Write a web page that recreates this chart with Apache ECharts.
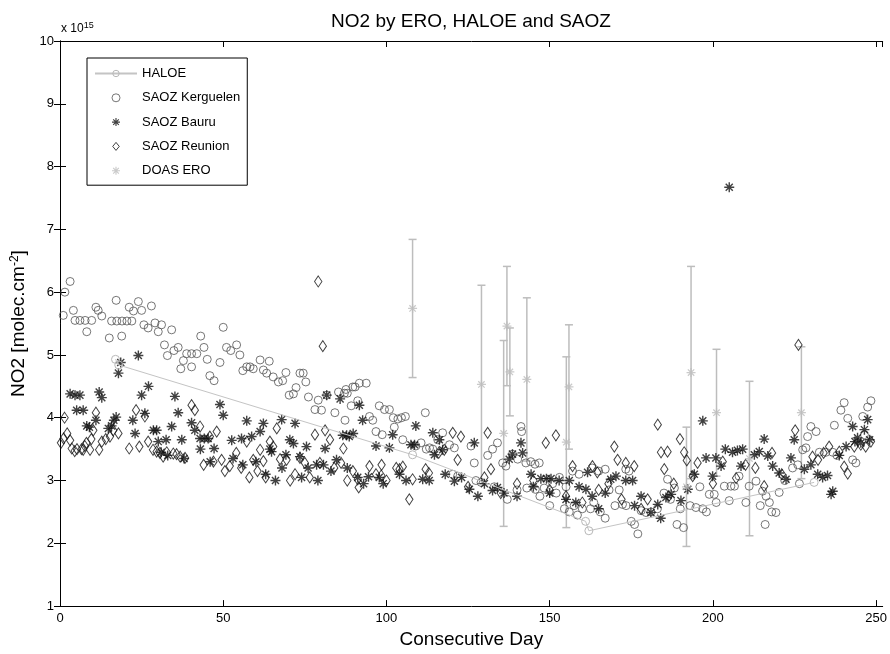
<!DOCTYPE html>
<html>
<head>
<meta charset="utf-8">
<script src="https://cdn.jsdelivr.net/npm/echarts@6/dist/echarts.min.js"></script>
<style>
  html, body { margin: 0; padding: 0; background: #fff; }
  #chart { width: 890px; height: 654px; }
</style>
</head>
<body>
<div id="chart"></div>
<script>
// values, units of 1e15 molec/cm2
var haloe = [[17, 4.93], [18, 4.84], [108, 3.41], [161, 2.35], [162, 2.2], [231, 2.97]];

var kerguelen = [
  [1.0, 5.63], [1.5, 6.0], [3.1, 6.17], [4.1, 5.71], [4.6, 5.55], [6.1, 5.55], [7.7, 5.55], [8.2, 5.37], [9.7, 5.55],
  [11, 5.76], [11.7, 5.71], [12.8, 5.62], [15.1, 5.27], [15.8, 5.54], [17.2, 5.87], [17.4, 5.54], [18.9, 5.3], [19, 5.54],
  [20.5, 5.54], [21.2, 5.76], [22, 5.54], [22.5, 5.7], [24, 5.85], [25, 5.71], [25.7, 5.48], [27, 5.43], [28, 5.78],
  [29.1, 5.51], [30.1, 5.37], [31.1, 5.48], [32, 5.16], [32.9, 4.99], [34.2, 5.4], [34.9, 5.07], [36.2, 5.12], [37, 4.78],
  [37.8, 4.91], [38.8, 5.02], [40.3, 4.81], [40.3, 5.02], [41.9, 5.02], [43.1, 5.3], [44.1, 5.12], [45.1, 4.93], [45.9, 4.67],
  [47.2, 4.59], [49, 4.88], [50, 5.44], [51, 5.12], [52.3, 5.07], [54.1, 5.16], [55.1, 5.0], [56, 4.75], [57.2, 4.81],
  [58.2, 4.81], [59.2, 4.78], [61.3, 4.92], [62.3, 4.76], [63.3, 4.71], [64.1, 4.9], [65.3, 4.65], [66.9, 4.57], [68.2, 4.59],
  [69.2, 4.72], [70.2, 4.36], [71.5, 4.38], [72.3, 4.48], [73.5, 4.71], [74.5, 4.71], [75.3, 4.57], [76.1, 4.33], [78.1, 4.13],
  [79.1, 4.28], [80.1, 4.12], [81.7, 4.36], [84.2, 4.08], [85.3, 4.41], [87.1, 4.39], [87.3, 3.96], [87.6, 4.45], [88, 4.39],
  [89.2, 4.19], [89.7, 4.49], [90.4, 4.49], [91.2, 4.27], [91.7, 4.55], [93.8, 4.55], [94.8, 4.02], [95.8, 3.96], [96.8, 3.78],
  [97.8, 4.19], [98.7, 3.73], [99.4, 4.13], [100.9, 4.13], [102.1, 4.0], [102.4, 3.85], [103.5, 3.98], [104.6, 4.0], [105, 3.65],
  [105.8, 4.02], [109, 3.55], [110.6, 3.6], [111.9, 4.08], [112.2, 3.5], [113.2, 3.52], [114.2, 3.5], [115.7, 3.65], [117.2, 3.76],
  [119.3, 3.57], [120.3, 3.1], [120.8, 3.52], [121.8, 3.07], [125.9, 3.55], [126.9, 3.28], [127.4, 3.0], [129, 2.97], [131, 3.4],
  [132.5, 3.5], [134, 3.6], [135.6, 3.28], [136.6, 3.23], [138.6, 3.42], [140.2, 3.34], [141.2, 3.86], [141.4, 3.78], [142.7, 3.28],
  [143, 2.88], [144.2, 3.3], [145.5, 3.26], [146.8, 3.28], [145.6, 2.86], [148.3, 2.88], [150.9, 2.95], [153, 3.05], [155, 2.9],
  [157, 3.15], [159, 3.1], [163, 3.2], [165, 3.15], [167, 3.18], [168.2, 2.85], [171.3, 2.85], [173.3, 3.18], [174.3, 3.15],
  [133, 2.9], [137, 2.7], [140, 2.85], [147, 2.75], [150, 2.6], [152, 2.8], [154.5, 2.55], [156, 2.5], [157.5, 2.6],
  [158.5, 2.45], [160, 2.55], [162.5, 2.55], [163.5, 2.65], [165.5, 2.5], [167, 2.4], [170, 2.6], [172.3, 2.62], [173.4, 2.6],
  [175, 2.35], [176, 2.3], [177, 2.15], [178, 2.52], [179.5, 2.49], [181, 2.5], [183, 2.55], [185, 2.8], [186.1, 3.02],
  [187, 2.7], [188.2, 2.88], [189, 2.3], [190, 2.55], [191, 2.25], [193, 2.6], [194.8, 2.57], [196.9, 2.55], [196, 2.9],
  [198, 2.5], [198.9, 2.78], [200.4, 2.78], [201, 2.65], [203.5, 2.91], [205, 2.68], [205.5, 2.91], [206.6, 2.91], [208, 3.07],
  [210.1, 2.65], [211.1, 2.91], [213.2, 2.99], [214.5, 2.6], [215.2, 2.83], [216.3, 2.75], [216, 2.3], [217.3, 2.65], [218, 2.5],
  [219.3, 2.49], [220.3, 2.81], [222, 3.0], [224.4, 3.2], [226, 3.25], [226.5, 2.95], [227.5, 3.49], [228.5, 3.52], [229, 3.7],
  [230, 3.86], [231.6, 3.78], [232.6, 3.45], [234.6, 3.45], [236.7, 3.45], [237.2, 3.88], [238, 3.4], [239.2, 4.12], [240.2, 4.24],
  [241.3, 3.99], [242.8, 3.33], [243.8, 3.28], [245.9, 4.02], [246.4, 3.73], [247.4, 4.17], [248.4, 4.27]
];

var bauru = [
  [3.1, 4.38], [4.6, 4.36], [6.1, 4.36], [5.1, 4.12], [7.1, 4.12], [8.2, 3.87], [9, 3.85], [11, 3.96], [12, 4.41], [12.8, 4.32],
  [14.8, 3.83], [15.8, 3.87], [16.5, 3.96], [17.2, 4.01], [17.9, 4.71], [18.6, 4.88], [22.3, 3.96], [23, 3.75], [24, 4.99],
  [25, 4.36], [26, 4.07], [27.1, 4.5], [28.6, 3.8], [29.6, 3.8], [30.1, 3.62], [32.5, 3.65], [34.2, 3.86], [35.2, 4.34],
  [36.2, 4.08], [37.3, 3.65], [40.3, 3.92], [41.3, 3.8], [42.9, 3.67], [44.2, 3.67], [45.4, 3.67], [47.2, 3.51], [49, 4.21],
  [50, 4.04], [52.6, 3.64], [55.6, 3.67], [57.2, 3.95], [58.7, 3.7], [61.3, 3.78], [62.3, 3.91], [64.3, 3.5], [64.8, 3.46],
  [67.9, 3.97], [69.2, 3.41], [70.4, 3.65], [71.5, 3.59], [72, 3.91], [73.5, 3.38], [75.5, 3.54], [78.6, 3.25], [80.7, 3.25],
  [81.2, 3.51], [81.7, 4.36], [84.7, 3.33], [85.8, 4.3], [86.6, 3.72], [87.8, 3.72], [88.6, 3.7], [89.8, 3.75], [91.7, 4.2],
  [92.7, 3.96], [96.8, 3.55], [100.9, 3.52], [91.2, 3.05], [94.5, 3.06], [97.8, 3.05], [101.9, 3.73], [107.5, 3.57], [108.6, 3.57],
  [109, 3.87], [111.1, 3.02], [113.1, 3.0], [114.2, 3.76], [114.7, 3.41], [116.2, 3.65], [117.2, 3.49], [120.8, 2.99], [123, 3.05],
  [125.4, 2.86], [126.9, 3.6], [132.5, 2.84], [134, 2.89], [137.6, 3.34], [138.6, 3.42], [141.2, 3.6], [141.7, 3.44], [144.3, 3.1],
  [147.3, 3.03], [149, 3.03], [150.4, 3.03], [152.9, 3.0], [156, 3.0], [159, 2.9], [161.1, 2.86], [161.6, 3.13], [168.7, 3.02],
  [170.3, 3.07], [173.3, 3.0], [175.4, 3.0],
  [31, 3.45], [33, 3.4], [38, 3.35], [43, 3.5], [46, 3.3], [53, 3.35], [56, 3.25], [60, 3.3], [63, 3.1], [66, 3.0], [68, 3.2],
  [74, 3.05], [76, 3.2], [79, 3.0], [83, 3.15], [88, 3.2], [93, 2.95], [99, 2.95], [104, 3.1], [106, 3.0], [118, 3.1],
  [128, 2.75], [130, 2.95], [136, 2.8], [140, 2.75], [145, 2.9], [150, 2.8], [155, 2.7], [158, 2.65], [163, 2.75], [165, 2.55],
  [167, 2.8], [176, 2.6], [178, 2.75], [181, 2.49], [183.1, 2.62], [184, 2.4], [185.6, 2.73], [187.2, 2.78], [190.2, 2.68],
  [192.3, 2.86], [194.3, 3.1], [196.9, 3.95], [197.9, 3.36], [199.9, 3.07], [200.9, 3.36], [202.5, 3.23], [203.8, 3.5],
  [205, 7.67], [206, 3.45], [207.5, 3.48], [208.6, 3.23], [209.1, 3.5], [212.7, 3.41], [214.2, 3.46], [215.7, 3.66], [216.8, 3.39],
  [218.3, 3.23], [220.3, 3.12], [222.4, 3.02], [223.9, 3.36], [224.9, 3.65], [228, 3.18], [230, 3.25], [232.1, 3.1], [233.6, 3.05],
  [235.1, 3.08], [236.2, 2.78], [236.7, 2.83], [238.7, 3.4], [240.8, 3.54], [242.8, 3.86], [243.5, 3.62], [244.3, 3.68],
  [245.3, 3.6], [246.4, 3.81], [247.4, 3.97], [248, 3.65]
];

var reunion = [
  [0.3, 3.6], [1.1, 3.67], [1.4, 4.0], [2.2, 3.75], [3.1, 3.64], [3.6, 3.51], [4.5, 3.47], [5.2, 3.5], [6.6, 3.5], [7.1, 3.49],
  [7.6, 3.55], [8.1, 3.6], [9.2, 3.49], [9.6, 3.66], [10.2, 3.8], [11, 4.08], [12, 3.49], [12.8, 3.62], [14, 3.66], [15.3, 3.7],
  [16.3, 3.8], [17.9, 3.75], [21.2, 3.51], [23.3, 4.12], [24.3, 3.54], [26, 4.02], [27, 3.62], [28.5, 3.49], [29.6, 3.46],
  [30.6, 3.44], [31.6, 3.38], [32.7, 3.45], [34.7, 3.43], [35.7, 3.42], [36.8, 3.38], [38.3, 3.36], [40.3, 4.2], [41.3, 4.12],
  [42.9, 3.86], [44, 3.25], [45.9, 3.7], [47, 3.3], [48, 3.78], [49.5, 3.33], [50.5, 3.15], [52, 3.23], [54, 3.44], [55.5, 3.2],
  [57.2, 3.62], [58, 3.05], [59.2, 3.33], [60.5, 3.15], [61.3, 3.49], [62.3, 3.31], [63, 3.05], [64.3, 3.62], [65.3, 3.54],
  [66.4, 3.83], [67.4, 3.34], [69.4, 3.33], [70.5, 3.0], [72, 3.1], [73.5, 3.36], [75, 3.28], [76.5, 3.05], [78.1, 3.73],
  [79.1, 6.17], [79.6, 3.28], [80.5, 5.14], [81.2, 3.8], [82.7, 3.65], [84, 3.2], [86.1, 3.28], [86.8, 3.51], [88, 3.0],
  [89.7, 3.15], [91.2, 3.02], [91.5, 2.89], [94.8, 3.23], [96.8, 3.1], [98.4, 3.08], [98.5, 3.25], [100, 3.0], [103, 3.2],
  [104, 3.18], [105, 3.22], [107, 2.7], [108, 3.02], [112, 3.18], [113, 3.12], [116, 3.44], [117.7, 3.49], [120.3, 3.76],
  [121.8, 3.33], [122.8, 3.7], [125, 2.9], [130, 3.05], [131, 3.76], [132, 3.18], [135, 2.8], [140, 2.95], [145, 3.0],
  [148.8, 3.6], [150, 2.85], [151.9, 3.72], [155, 2.75], [157, 3.23], [160, 2.65], [163.1, 3.23], [164.6, 3.13], [165, 2.85],
  [168, 2.95], [169.8, 3.54], [170.8, 3.33], [172, 2.7], [173.3, 3.28], [175.9, 3.23], [178, 2.55], [180, 2.7], [183.1, 3.89],
  [184.1, 3.45], [185.1, 3.18], [186.1, 3.46], [186.5, 2.75], [188, 2.95], [189.9, 3.66], [191.2, 3.45], [192, 3.32],
  [193.8, 3.07], [195.3, 3.28], [200, 2.95], [203, 3.3], [207.1, 3.04], [210, 3.25], [213, 3.2], [215.7, 2.91], [218.1, 3.44],
  [221.1, 3.1], [225.2, 3.8], [226.2, 5.16], [230.5, 3.38], [232.2, 3.33], [233.9, 3.44], [235.6, 3.54], [238.7, 3.46],
  [240.2, 3.22], [241.3, 3.11], [243.3, 3.54], [245.3, 3.57], [246.8, 3.54], [248.4, 3.62]
];

// DOAS ERO: day, value, error half-width
var doas = [
  [108.0, 5.74, 1.10], [129.1, 4.53, 1.58], [135.9, 3.75, 1.48], [136.9, 5.46, 0.95], [137.8, 4.73, 0.70],
  [143.0, 4.61, 1.30], [155.1, 3.61, 1.36], [155.9, 4.49, 0.99], [191.9, 2.90, 0.95], [193.3, 4.72, 1.69],
  [201.1, 4.08, 1.01], [211.2, 3.35, 1.23], [227.1, 4.08, 1.05]
];

var xTicks = [0, 250, 50];   // min, last tick, step
var yTicks = [1, 10, 1];

var font = "'Liberation Sans', Arial, sans-serif";

// asterisk made of four thin bars
var starPath = 'path://M-0.7,-5 L0.7,-5 L0.7,5 L-0.7,5 Z M-5,-0.7 L5,-0.7 L5,0.7 L-5,0.7 Z ' +
  'M3.04,-4.03 L4.03,-3.04 L-3.04,4.03 L-4.03,3.04 Z M-4.03,-3.04 L-3.04,-4.03 L4.03,3.04 L3.04,4.03 Z';
// tall diamond like matlab's 'd'
var diamondPath = 'path://M0,0 L4.5,5.5 L0,11 L-4.5,5.5 Z';

var chart = echarts.init(document.getElementById('chart'));

function errorBar(params, api) {
  var x = api.value(0), y = api.value(1), e = api.value(2);
  var top = api.coord([x, y + e]);
  var bot = api.coord([x, y - e]);
  var st = { stroke: '#bdbdbd', lineWidth: 1.5 };
  return {
    type: 'group',
    children: [
      { type: 'line', shape: { x1: top[0], y1: top[1], x2: bot[0], y2: bot[1] }, style: st },
      { type: 'line', shape: { x1: top[0] - 4, y1: top[1], x2: top[0] + 4, y2: top[1] }, style: st },
      { type: 'line', shape: { x1: bot[0] - 4, y1: bot[1], x2: bot[0] + 4, y2: bot[1] }, style: st }
    ]
  };
}

var axisCommon = {
  type: 'value',
  axisLine: { show: true, lineStyle: { color: '#000', width: 1 } },
  axisTick: { show: true, inside: true, length: 6, lineStyle: { color: '#000' } },
  splitLine: { show: false }
};

var option = {
  animation: false,
  backgroundColor: '#fff',
  grid: { left: 60, right: 6, top: 41, bottom: 43 },
  graphic: [
    { type: 'text', x: 471, y: 22, style: { text: 'NO2 by ERO, HALOE and SAOZ', font: '19px ' + font, fill: '#000', textAlign: 'center', textVerticalAlign: 'middle' } },
    { type: 'text', x: 61, y: 36, style: { text: 'x 10{s|15}', font: '12px ' + font, fill: '#000', textVerticalAlign: 'bottom',
      rich: { s: { fontSize: 9, verticalAlign: 'top', padding: [0, 0, 6, 0] } } } }
  ],
  legend: {
    left: 87, top: 58, orient: 'vertical',
    padding: [9, 7, 8, 7],
    itemWidth: 42, itemHeight: 8, itemGap: 11.3,
    symbolKeepAspect: true,
    itemStyle: { borderWidth: 1 },
    backgroundColor: '#fff', borderColor: '#000', borderWidth: 1,
    textStyle: { fontSize: 13, fontFamily: font, color: '#000' },
    data: ['HALOE', 'SAOZ Kerguelen', 'SAOZ Bauru', 'SAOZ Reunion', 'DOAS ERO']
  },
  xAxis: [
    Object.assign({}, axisCommon, {
      min: xTicks[0], max: 252, interval: xTicks[2], position: 'bottom',
      axisLabel: { color: '#000', fontSize: 13, fontFamily: font, margin: 6, showMaxLabel: false },
      name: 'Consecutive Day', nameLocation: 'middle', nameGap: 22,
      nameTextStyle: { fontSize: 19, fontFamily: font, color: '#000' }
    }),
    Object.assign({}, axisCommon, {
      min: xTicks[0], max: 252, interval: xTicks[2], position: 'top', axisLabel: { show: false }
    })
  ],
  yAxis: [
    Object.assign({}, axisCommon, {
      min: yTicks[0], max: yTicks[1], interval: yTicks[2], position: 'left',
      axisLabel: { color: '#000', fontSize: 13, fontFamily: font, margin: 6 },
      name: '{a|NO2 [molec.cm}{s|-2}{a|]}', nameLocation: 'middle', nameGap: 22,
      nameTextStyle: { color: '#000', rich: {
        a: { fontSize: 19, fontFamily: font, color: '#000' },
        s: { fontSize: 12, fontFamily: font, color: '#000', verticalAlign: 'top', padding: [0, 0, 8, 0] }
      } }
    }),
    Object.assign({}, axisCommon, {
      min: yTicks[0], max: yTicks[1], interval: yTicks[2], position: 'right', axisLabel: { show: false }
    })
  ],
  series: [
    {
      name: 'HALOE', type: 'line', data: haloe, symbol: 'circle', symbolSize: 8, showAllSymbol: true,
      lineStyle: { color: '#c4c4c4', width: 1 },
      itemStyle: { color: 'rgba(0,0,0,0)', borderColor: '#b8b8b8', borderWidth: 1 }
    },
    {
      name: 'SAOZ Kerguelen', type: 'scatter', data: kerguelen, symbol: 'circle', symbolSize: 8,
      itemStyle: { color: 'rgba(0,0,0,0)', borderColor: '#555', borderWidth: 1 }
    },
    {
      name: 'SAOZ Bauru', type: 'scatter', data: bauru, symbol: starPath, symbolSize: 10, symbolKeepAspect: true,
      itemStyle: { color: '#111' }
    },
    {
      name: 'SAOZ Reunion', type: 'scatter', data: reunion, symbol: diamondPath, symbolSize: [9, 11], symbolKeepAspect: true,
      itemStyle: { color: 'rgba(0,0,0,0)', borderColor: '#111', borderWidth: 1 }
    },
    {
      name: 'DOAS ERO bars', type: 'custom', data: doas, renderItem: errorBar,
      encode: { x: 0, y: 1 }, silent: true
    },
    {
      name: 'DOAS ERO', type: 'scatter', data: doas.map(function (d) { return [d[0], d[1]]; }),
      symbol: starPath, symbolSize: 9, symbolKeepAspect: true, itemStyle: { color: '#bdbdbd' }
    }
  ]
};

chart.setOption(option);
</script>
</body>
</html>
